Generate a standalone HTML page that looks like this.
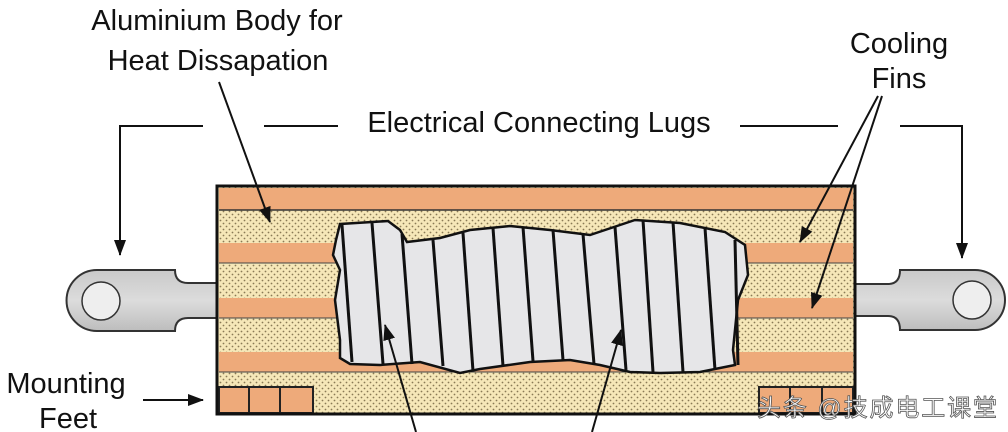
<!DOCTYPE html>
<html><head><meta charset="utf-8"><style>
html,body{margin:0;padding:0;background:#fff;}
svg{display:block;font-family:"Liberation Sans","Noto Sans CJK SC",sans-serif;}
</style></head><body>
<svg width="1008" height="432" viewBox="0 0 1008 432" xmlns="http://www.w3.org/2000/svg">
<defs>
<pattern id="dots" width="6" height="6" patternUnits="userSpaceOnUse">
<rect width="6" height="6" fill="#f6e7b8"/>
<circle cx="1.5" cy="1.5" r="0.9" fill="#8a7a55"/>
<circle cx="4.5" cy="4.5" r="0.9" fill="#8a7a55"/>
</pattern>
<linearGradient id="met" x1="0" y1="0" x2="0" y2="1">
<stop offset="0" stop-color="#c9c9c9"/><stop offset="0.5" stop-color="#dcdcdc"/><stop offset="1" stop-color="#bdbdbd"/>
</linearGradient>
<marker id="ahb" markerWidth="16" markerHeight="16" refX="15" refY="8" orient="auto" markerUnits="userSpaceOnUse" viewBox="0 0 16 16">
<path d="M0,2 L16,8 L0,14 Z" fill="#111"/>
</marker>
</defs>

<path d="M175,270 L97,270 A30,30 0 0 0 97,331 L175,331 Q175,318 188,318 L217,318 L217,283 L188,283 Q175,283 175,270 Z" fill="url(#met)" stroke="#333" stroke-width="2"/>
<circle cx="101" cy="301" r="19" fill="#eee" stroke="#333" stroke-width="1.5"/>
<path d="M900,270 L975,270 A30,30 0 0 1 975,330 L900,330 Q900,316 888,316 L855,316 L855,284 L888,284 Q900,284 900,270 Z" fill="url(#met)" stroke="#333" stroke-width="2"/>
<circle cx="972" cy="300" r="19" fill="#eee" stroke="#333" stroke-width="1.5"/>

<rect x="217" y="186" width="638" height="228" fill="url(#dots)"/>
<rect x="219" y="188" width="634" height="22" fill="#eeaa7a"/>
<line x1="219" y1="210" x2="853" y2="210" stroke="#333" stroke-width="1.5"/>
<rect x="219" y="243" width="634" height="20" fill="#eeaa7a"/>
<line x1="219" y1="263" x2="853" y2="263" stroke="#444" stroke-width="1"/>
<rect x="219" y="298" width="634" height="20" fill="#eeaa7a"/>
<line x1="219" y1="318" x2="853" y2="318" stroke="#444" stroke-width="1"/>
<rect x="219" y="352" width="634" height="20" fill="#eeaa7a"/>
<line x1="219" y1="372" x2="853" y2="372" stroke="#444" stroke-width="1"/>
<rect x="219" y="387" width="94" height="26" fill="#eeaa7a" stroke="#222" stroke-width="2"/>
<line x1="249" y1="387" x2="249" y2="413" stroke="#222" stroke-width="2"/>
<line x1="280" y1="387" x2="280" y2="413" stroke="#222" stroke-width="2"/>
<rect x="759" y="387" width="94" height="26" fill="#eeaa7a" stroke="#222" stroke-width="2"/>
<line x1="790" y1="387" x2="790" y2="413" stroke="#222" stroke-width="2"/>
<line x1="822" y1="387" x2="822" y2="413" stroke="#222" stroke-width="2"/>
<rect x="217" y="186" width="638" height="228" fill="none" stroke="#111" stroke-width="3"/>

<path d="M340,224 L388,221 L400,230 L407,242 L440,238 L470,230 L510,226 L550,230 L590,235 L620,225 L635,220 L680,223 L725,232 L745,245 L748,275 L738,300 L733,350 L735,365 L700,372 L660,373 L630,372 L600,365 L570,360 L530,362 L480,369 L460,373 L420,362 L380,365 L350,364 L340,358 L340,340 L335,300 L340,270 L333,255 L336,240 Z" fill="#e6e6e8" stroke="#111" stroke-width="2.5"/>
<g stroke="#111" stroke-width="3">
<line x1="342" y1="225" x2="352" y2="362"/>
<line x1="372" y1="223" x2="383" y2="364"/>
<line x1="402" y1="234" x2="412" y2="364"/>
<line x1="433" y1="240" x2="443" y2="366"/>
<line x1="463" y1="233" x2="473" y2="371"/>
<line x1="493" y1="228" x2="503" y2="366"/>
<line x1="523" y1="227" x2="533" y2="361"/>
<line x1="553" y1="230" x2="563" y2="360"/>
<line x1="583" y1="234" x2="594" y2="364"/>
<line x1="615" y1="227" x2="626" y2="370"/>
<line x1="643" y1="220" x2="653" y2="372"/>
<line x1="673" y1="222" x2="683" y2="372"/>
<line x1="705" y1="228" x2="715" y2="370"/>
<line x1="735" y1="240" x2="738" y2="365"/>
</g>

<g stroke="#111" stroke-width="2" fill="none">
<path d="M203,126 L120,126 L120,255" marker-end="url(#ahb)"/>
<line x1="264" y1="126" x2="338" y2="126"/>
<line x1="740" y1="126" x2="838" y2="126"/>
<path d="M900,126 L962,126 L962,258" marker-end="url(#ahb)"/>
<line x1="219" y1="82" x2="270" y2="222" marker-end="url(#ahb)"/>
<line x1="878" y1="96" x2="800" y2="242" marker-end="url(#ahb)"/>
<line x1="882" y1="96" x2="812" y2="308" marker-end="url(#ahb)"/>
<line x1="143" y1="400" x2="203" y2="400" marker-end="url(#ahb)"/>
<line x1="416" y1="432" x2="385" y2="325" marker-end="url(#ahb)"/>
<line x1="592" y1="432" x2="621" y2="330" marker-end="url(#ahb)"/>
</g>

<g font-size="29" fill="#111" text-anchor="middle">
<text x="217" y="30">Aluminium Body for</text>
<text x="218" y="70">Heat Dissapation</text>
<text x="539" y="132">Electrical Connecting Lugs</text>
<text x="899" y="53">Cooling</text>
<text x="899" y="88">Fins</text>
<text x="66" y="393">Mounting</text>
<text x="68" y="428">Feet</text>
</g>
<text x="757" y="416" font-size="24" fill="#fff" stroke="#555" stroke-width="0.8" textLength="240" font-family="'Liberation Sans','Noto Sans CJK SC',sans-serif">头条 @技成电工课堂</text>
</svg>
</body></html>
